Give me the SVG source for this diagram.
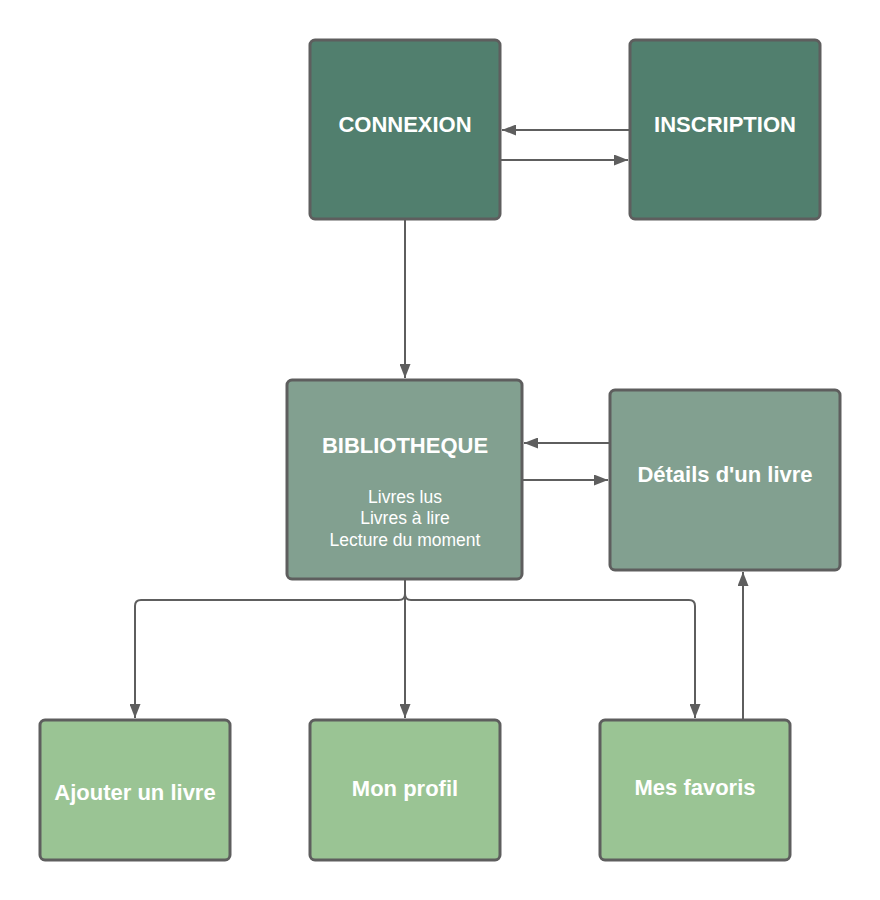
<svg xmlns="http://www.w3.org/2000/svg" width="880" height="900" viewBox="0 0 880 900">
<defs>
<marker id="ah" viewBox="0 0 14 11" refX="14" refY="5.5" markerWidth="14" markerHeight="11" markerUnits="userSpaceOnUse" orient="auto">
<path d="M0,0 L14,5.5 L0,11 Z" fill="#5e5e5e"/>
</marker>
<style>
.box{stroke:#5e5e5e;stroke-width:3}
.dark{fill:#517f6e}
.mid{fill:#82a090}
.light{fill:#9ac494}
.t{font-family:"Liberation Sans",Arial,sans-serif;font-weight:bold;font-size:22px;fill:#fff;text-anchor:middle}
.s{font-family:"Liberation Sans",Arial,sans-serif;font-size:17.5px;fill:#fff;text-anchor:middle}
.c{fill:none;stroke:#5e5e5e;stroke-width:2}
</style>
</defs>
<rect width="880" height="900" fill="#fff"/>
<g id="connectors">
<line class="c" x1="630" y1="130" x2="502" y2="130" marker-end="url(#ah)"/>
<line class="c" x1="500" y1="160" x2="628" y2="160" marker-end="url(#ah)"/>
<line class="c" x1="405" y1="219" x2="405" y2="378" marker-end="url(#ah)"/>
<line class="c" x1="610" y1="443" x2="524" y2="443" marker-end="url(#ah)"/>
<line class="c" x1="522" y1="480" x2="608" y2="480" marker-end="url(#ah)"/>
<path class="c" d="M405,580 L405,594 Q405,600 399,600 L141,600 Q135,600 135,606 L135,718" marker-end="url(#ah)"/>
<line class="c" x1="405" y1="580" x2="405" y2="718" marker-end="url(#ah)"/>
<path class="c" d="M405,580 L405,594 Q405,600 411,600 L689,600 Q695,600 695,606 L695,718" marker-end="url(#ah)"/>
<line class="c" x1="743" y1="720" x2="743" y2="572" marker-end="url(#ah)"/>
</g>
<g id="connexion">
<rect class="box dark" x="310" y="40" width="190" height="179" rx="5"/>
<text class="t" x="405" y="132">CONNEXION</text>
</g>
<g id="inscription">
<rect class="box dark" x="630" y="40" width="190" height="179" rx="5"/>
<text class="t" x="725" y="132">INSCRIPTION</text>
</g>
<g id="bibliotheque">
<rect class="box mid" x="287" y="380" width="235" height="199" rx="5"/>
<text class="t" x="405" y="453">BIBLIOTHEQUE</text>
<text class="s" x="405" y="503">Livres lus</text>
<text class="s" x="405" y="524">Livres à lire</text>
<text class="s" x="405" y="546">Lecture du moment</text>
</g>
<g id="details">
<rect class="box mid" x="610" y="390" width="230" height="180" rx="5"/>
<text class="t" x="725" y="482">Détails d'un livre</text>
</g>
<g id="ajouter">
<rect class="box light" x="40" y="720" width="190" height="140" rx="5"/>
<text class="t" x="135" y="800">Ajouter un livre</text>
</g>
<g id="profil">
<rect class="box light" x="310" y="720" width="190" height="140" rx="5"/>
<text class="t" x="405" y="796">Mon profil</text>
</g>
<g id="favoris">
<rect class="box light" x="600" y="720" width="190" height="140" rx="5"/>
<text class="t" x="695" y="795">Mes favoris</text>
</g>
</svg>
